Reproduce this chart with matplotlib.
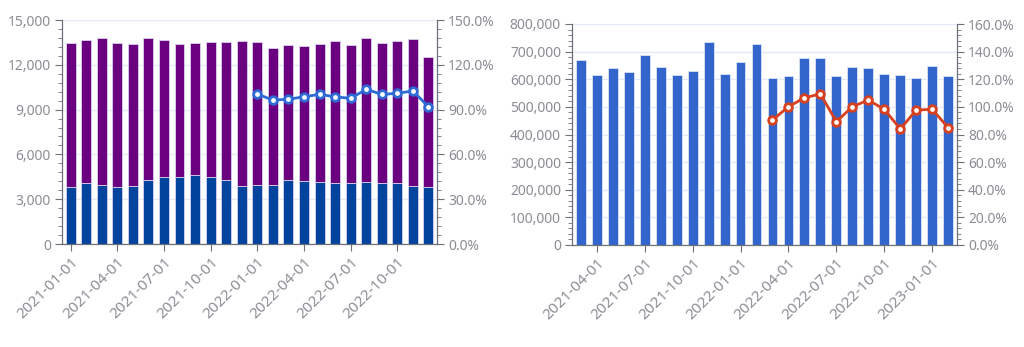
import matplotlib
matplotlib.use("Agg")
import matplotlib.pyplot as plt
from matplotlib.ticker import FuncFormatter, MultipleLocator, AutoMinorLocator
import numpy as np

plt.rcParams['font.family'] = ['Noto Sans', 'DejaVu Sans']

# ---------------- data: left chart ----------------
left_months = ["2021-01-01", "2021-02-01", "2021-03-01", "2021-04-01", "2021-05-01", "2021-06-01",
               "2021-07-01", "2021-08-01", "2021-09-01", "2021-10-01", "2021-11-01", "2021-12-01",
               "2022-01-01", "2022-02-01", "2022-03-01", "2022-04-01", "2022-05-01", "2022-06-01",
               "2022-07-01", "2022-08-01", "2022-09-01", "2022-10-01", "2022-11-01", "2022-12-01"]
left_total = [13480, 13660, 13820, 13460, 13370, 13780, 13660, 13370, 13460, 13550, 13510, 13600,
              13510, 13130, 13330, 13260, 13400, 13580, 13350, 13780, 13480, 13620, 13750, 12500]
left_blue = [3840, 4060, 3950, 3840, 3910, 4290, 4470, 4470, 4600, 4490, 4270, 3910,
             3930, 3970, 4290, 4220, 4170, 4060, 4110, 4170, 4060, 4060, 3910, 3800]
left_ratio = [None] * 12 + [100.4, 96.4, 96.9, 98.6, 100.2, 98.6, 97.5, 103.6, 100.2, 100.9, 102.5, 91.9]
left_ticklabels = ["2021-01-01", "2021-04-01", "2021-07-01", "2021-10-01",
                   "2022-01-01", "2022-04-01", "2022-07-01", "2022-10-01"]

# ---------------- data: right chart ----------------
right_months = ["2021-03-01", "2021-04-01", "2021-05-01", "2021-06-01", "2021-07-01", "2021-08-01",
                "2021-09-01", "2021-10-01", "2021-11-01", "2021-12-01", "2022-01-01", "2022-02-01",
                "2022-03-01", "2022-04-01", "2022-05-01", "2022-06-01", "2022-07-01", "2022-08-01",
                "2022-09-01", "2022-10-01", "2022-11-01", "2022-12-01", "2023-01-01", "2023-02-01"]
right_values = [670000, 615000, 641000, 625000, 687000, 645000, 615000, 629000, 735000, 619000, 661000, 726000,
                604000, 613000, 678000, 678000, 613000, 645000, 640000, 618000, 617000, 603000, 647000, 613000]
right_ratio = [None] * 12 + [90.5, 100.1, 106.6, 109.3, 89.3, 100.1, 104.9, 98.2, 84.0, 97.7, 98.2, 84.9]
right_ticklabels = ["2021-04-01", "2021-07-01", "2021-10-01", "2022-01-01",
                    "2022-04-01", "2022-07-01", "2022-10-01", "2023-01-01"]

# ---------------- style ----------------
LABEL = "#8C8C96"
AXIS = "#6E7079"
GRID = "#E3E9F6"
DARKBLUE = "#00449E"
PURPLE = "#6A0080"
LINEBLUE = "#2F6BD6"
BARBLUE = "#3366CC"
RED = "#D8401E"
FS = 10
XFS = 11

W, H = 1024, 347
fig = plt.figure(figsize=(W / 100, H / 100), dpi=100)


def style_axes(ax, ax2, ymax, ystep, fmt, rmax, rstep, rfmt, xticks_idx, xticklabels):
    ax.set_ylim(0, ymax)
    ax2.set_ylim(0, rmax)
    ax.yaxis.set_major_locator(MultipleLocator(ystep))
    ax.yaxis.set_minor_locator(AutoMinorLocator(5))
    ax2.yaxis.set_major_locator(MultipleLocator(rstep))
    ax2.yaxis.set_minor_locator(AutoMinorLocator(5))
    ax.yaxis.set_major_formatter(FuncFormatter(fmt))
    ax2.yaxis.set_major_formatter(FuncFormatter(rfmt))
    ax.grid(axis='y', color=GRID, linewidth=1.0)
    ax.set_axisbelow(True)
    for a in (ax, ax2):
        a.spines['top'].set_visible(False)
        for s in ('left', 'right', 'bottom'):
            a.spines[s].set_color(AXIS)
            a.spines[s].set_linewidth(0.9)
        a.tick_params(axis='y', which='major', length=5, color=AXIS, labelcolor=LABEL,
                      labelsize=FS, pad=3)
        a.tick_params(axis='y', which='minor', length=3, color=AXIS)
    ax.spines['right'].set_visible(False)
    ax2.spines['left'].set_visible(False)
    ax2.spines['bottom'].set_visible(False)
    ax.set_xticks(xticks_idx)
    ax.set_xticklabels(xticklabels, rotation=45, ha='right', rotation_mode='anchor',
                       color=LABEL, fontsize=XFS)
    ax.tick_params(axis='x', length=5, color=AXIS, pad=3)


# ---------------- left chart ----------------
ax1 = fig.add_axes([62 / W, 1 - 244 / H, (437 - 62) / W, (244 - 20) / H])
ax1r = ax1.twinx()
x1 = np.arange(len(left_months))
purple_part = [t - b for t, b in zip(left_total, left_blue)]
ax1.bar(x1, left_blue, width=0.64, color=DARKBLUE, edgecolor="#D9D2EC", linewidth=0.6, zorder=2)
ax1.bar(x1, purple_part, bottom=left_blue, width=0.64, color=PURPLE, edgecolor="#D9D2EC",
        linewidth=0.6, zorder=2)
lr_x = [i for i, v in enumerate(left_ratio) if v is not None]
lr_y = [v for v in left_ratio if v is not None]
ax1r.plot(lr_x, lr_y, color=LINEBLUE, linewidth=2, marker='o', markersize=5.5,
          markerfacecolor='white', markeredgecolor=LINEBLUE, markeredgewidth=2, zorder=5)
ax1.set_xlim(-0.55, len(left_months) - 0.45)
style_axes(ax1, ax1r, 15000, 3000, lambda v, p: f"{int(v):,}", 150, 30,
           lambda v, p: f"{v:.1f}%", [left_months.index(m) for m in left_ticklabels], left_ticklabels)

# ---------------- right chart ----------------
ax2 = fig.add_axes([572 / W, 1 - 245 / H, (957 - 572) / W, (245 - 24) / H])
ax2r = ax2.twinx()
x2 = np.arange(len(right_months))
ax2.bar(x2, right_values, width=0.62, color=BARBLUE, edgecolor="#DCE4F5", linewidth=0.6, zorder=2)
rr_x = [i for i, v in enumerate(right_ratio) if v is not None]
rr_y = [v for v in right_ratio if v is not None]
ax2r.plot(rr_x, rr_y, color=RED, linewidth=2, marker='o', markersize=5.5,
          markerfacecolor='white', markeredgecolor=RED, markeredgewidth=2, zorder=5)
ax2.set_xlim(-0.55, len(right_months) - 0.45)
style_axes(ax2, ax2r, 800000, 100000, lambda v, p: f"{int(v):,}", 160, 20,
           lambda v, p: f"{v:.1f}%", [right_months.index(m) for m in right_ticklabels], right_ticklabels)

fig.savefig("out.png", dpi=100, facecolor='white')
